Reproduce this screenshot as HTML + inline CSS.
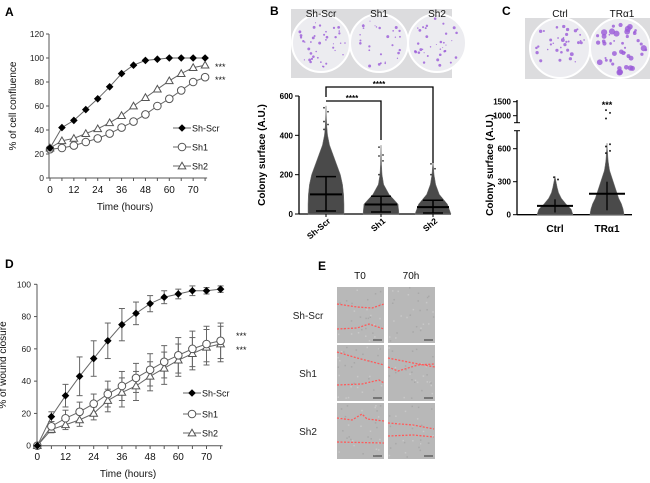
<!DOCTYPE html>
<html><head><meta charset="utf-8"><style>
html,body{margin:0;padding:0;background:#fff}
svg{display:block;font-family:"Liberation Sans",Arial,sans-serif}
</style></head><body>
<svg id="fig" width="650" height="483" viewBox="0 0 650 483" xmlns="http://www.w3.org/2000/svg">
<text x="5" y="16" font-size="12" font-weight="bold">A</text>
<text x="270" y="15" font-size="12" font-weight="bold">B</text>
<text x="502" y="15" font-size="12" font-weight="bold">C</text>
<text x="5" y="268" font-size="12" font-weight="bold">D</text>
<text x="318" y="270" font-size="12" font-weight="bold">E</text>
<g id="A"></g>
<g id="B"></g>
<g id="C"></g>
<g id="D"></g>
<g id="E"></g>
</svg>
<script>
// ---- Panel A data ----
const timeLabelsA = ["0","12","24","36","48","60","70"];
const scrA = [25,42,48,57,66,76,87,94,98,99,100,100,100,100];
const sh1A = [24,25,27,30,33,37,42,47,53,60,66,73,80,84];
const sh2A = [25,31,33,37,41,46,52,60,67,74,81,87,92,94];
const yTicksA = [0,20,40,60,80,100,120];
// ---- Panel D data ----
const timeLabelsD = ["0","12","24","36","48","60","70"];
const scrD = [0,18,31,43,54,65,75,82,88,92,94,96,96,97];
const scrDerr = [0,3,7,12,11,11,10,7,5,4,3,3,2,2];
const sh1D = [0,12,17,21,26,32,37,42,47,52,56,60,63,65];
const sh1Derr = [0,3,5,6,6,8,9,9,10,10,11,11,11,11];
const sh2D = [0,10,13,16,20,28,33,37,43,48,53,57,61,63];
const sh2Derr = [0,2,3,4,4,7,9,9,9,10,10,10,11,11];
const yTicksD = [0,20,40,60,80,100];
// ---- Panel B data ----
const groupsB = ["Sh-Scr","Sh1","Sh2"];
const meanB = [100,48,35];
const sdLowB = [15,10,5];
const sdHighB = [190,90,70];
const densityLevelsB = [0,50,100,150,200,250,300,350,400,450,500,550];
const densityB = [
 [100,100,98,92,80,60,40,20,9,4,2,0],
 [100,95,45,15,6,3,2,0,0,0,0,0],
 [100,80,35,15,6,2,0,0,0,0,0,0]];
const outliersB = [[540,520,470,455,430],[340,300,295,270,200],[255,230,200]];
const yTicksB = [0,200,400,600];
// ---- Panel C data ----
const groupsC = ["Ctrl","TRα1"];
const meanC = [80,190];
const sdLowC = [20,40];
const sdHighC = [140,300];
const densityLevelsC = [0,50,100,150,200,250,300,350,400,450,500,550,600,650];
const densityC = [
 [100,90,60,35,20,12,6,0,0,0,0,0,0,0],
 [95,90,80,65,55,45,35,25,15,10,6,4,2,0]];
const outliersC = [[340,320],[1200,1100,900,640,620,580,560]];
const yTicksClow = [0,300,600];
const yTicksChigh = [1000,1500];

const NS="http://www.w3.org/2000/svg";
function mk(parent,tag,attrs,text){const e=document.createElementNS(NS,tag);for(const k in attrs)e.setAttribute(k,attrs[k]);if(text!==undefined)e.textContent=text;parent.appendChild(e);return e;}

function marker(g,m,x,y,r){
 if(m==='diamond')return mk(g,'polygon',{points:`${x},${y-r} ${x+r},${y} ${x},${y+r} ${x-r},${y}`,fill:'#000'});
 if(m==='circle')return mk(g,'circle',{cx:x,cy:y,r:r,fill:'#fff',stroke:'#555','stroke-width':1});
 return mk(g,'polygon',{points:`${x},${y-r} ${x+r},${y+r*0.75} ${x-r},${y+r*0.75}`,fill:'#fff',stroke:'#555','stroke-width':1});
}

// ===== Panel A =====
(function(){
 const g=document.getElementById('A');
 const xA=i=>50+i*11.93, yA=v=>178-v*1.2;
 let e=mk(g,'line',{x1:49,y1:yA(120),x2:49,y2:178,stroke:'#555','stroke-width':1});
 
 
 e=mk(g,'line',{x1:49,y1:178,x2:xA(13)+2,y2:178,stroke:'#555','stroke-width':1});
 
 
 yTicksA.forEach(v=>{mk(g,'line',{x1:46,x2:49,y1:yA(v),y2:yA(v),stroke:'#555'});
  e=mk(g,'text',{x:44,y:yA(v)+3,'font-size':8.5,'text-anchor':'end',fill:'#222'},v);
  
  });
 for(let i=0;i<14;i++)mk(g,'line',{x1:xA(i),x2:xA(i),y1:178,y2:181,stroke:'#555'});
 timeLabelsA.forEach((t,k)=>{e=mk(g,'text',{x:xA(k*2),y:193,'font-size':10,'text-anchor':'middle',fill:'#111'},t);
  
  });
 e=mk(g,'text',{x:125,y:210,'font-size':10,'text-anchor':'middle',fill:'#111'},'Time (hours)');
 
 
 e=mk(g,'text',{x:0,y:0,'font-size':10,'text-anchor':'middle',fill:'#111',transform:'translate(16,106) rotate(-90)'},'% of cell confluence');
 
 
 const series=[[sh1A,'circle','a-series-sh1'],[sh2A,'tri','a-series-sh2'],[scrA,'diamond','a-series-sh-scr']];
 series.forEach(([d,m,n])=>{
  e=mk(g,'polyline',{points:d.map((v,i)=>xA(i)+','+yA(v)).join(' '),fill:'none',stroke:'#666','stroke-width':1});
  
  
  d.forEach((v,i)=>{e=marker(g,m,xA(i),yA(v),3.8);
   
   });
 });
 const leg=[['Sh-Scr','diamond',128],['Sh1','circle',147],['Sh2','tri',166]];
 leg.forEach(([t,m,y])=>{mk(g,'line',{x1:173,x2:191,y1:y,y2:y,stroke:'#666'});marker(g,m,182,y,3.8);
  e=mk(g,'text',{x:192,y:y+3.5,'font-size':9,fill:'#111'},t);
  
  });
 mk(g,'text',{x:215,y:70,'font-size':9,fill:'#111'},'***');
 mk(g,'text',{x:215,y:83,'font-size':9,fill:'#111'},'***');
})();

// ===== Panel D =====
(function(){
 const g=document.getElementById('D');
 const xD=i=>37.3+i*14.1, yD=v=>445.7-v*1.614;
 let e=mk(g,'line',{x1:37,y1:yD(100),x2:37,y2:445.7,stroke:'#555'});
 
 
 e=mk(g,'line',{x1:37,y1:445.7,x2:xD(13)+2,y2:445.7,stroke:'#555'});
 
 
 yTicksD.forEach(v=>{mk(g,'line',{x1:34,x2:37,y1:yD(v),y2:yD(v),stroke:'#555'});
  e=mk(g,'text',{x:31,y:yD(v)+3,'font-size':8.5,'text-anchor':'end',fill:'#222'},v);
  
  });
 for(let i=0;i<14;i++)mk(g,'line',{x1:xD(i),x2:xD(i),y1:445.7,y2:449,stroke:'#555'});
 timeLabelsD.forEach((t,k)=>{e=mk(g,'text',{x:xD(k*2),y:460,'font-size':10,'text-anchor':'middle',fill:'#111'},t);
  
  });
 e=mk(g,'text',{x:128,y:477,'font-size':10,'text-anchor':'middle',fill:'#111'},'Time (hours)');
 
 
 e=mk(g,'text',{x:0,y:0,'font-size':10,'text-anchor':'middle',fill:'#111',transform:'translate(6,365) rotate(-90)'},'% of wound closure');
 
 
 const series=[[sh2D,sh2Derr,'tri','d-series-sh2'],[sh1D,sh1Derr,'circle','d-series-sh1'],[scrD,scrDerr,'diamond','d-series-sh-scr']];
 series.forEach(([d,er,m,n])=>{
  d.forEach((v,i)=>{if(er[i]>0){const x=xD(i);
   mk(g,'line',{x1:x,x2:x,y1:yD(v-er[i]),y2:yD(v+er[i]),stroke:'#666'});
   mk(g,'line',{x1:x-3,x2:x+3,y1:yD(v-er[i]),y2:yD(v-er[i]),stroke:'#666'});
   mk(g,'line',{x1:x-3,x2:x+3,y1:yD(v+er[i]),y2:yD(v+er[i]),stroke:'#666'});}});
 });
 series.forEach(([d,er,m,n])=>{
  e=mk(g,'polyline',{points:d.map((v,i)=>xD(i)+','+yD(v)).join(' '),fill:'none',stroke:'#666'});
  
  
  d.forEach((v,i)=>{e=marker(g,m,xD(i),yD(v),3.8);
   
   });
 });
 const leg=[['Sh-Scr','diamond',393],['Sh1','circle',414],['Sh2','tri',433]];
 leg.forEach(([t,m,y])=>{mk(g,'line',{x1:183,x2:201,y1:y,y2:y,stroke:'#666'});marker(g,m,192,y,3.8);
  e=mk(g,'text',{x:202,y:y+3.5,'font-size':9,fill:'#111'},t);
  
  });
 mk(g,'text',{x:236,y:339,'font-size':9,fill:'#111'},'***');
 mk(g,'text',{x:236,y:353,'font-size':9,fill:'#111'},'***');
})();

// seeded texture generator (photo texture only)
let seed=7;function rnd(){seed=(seed*16807)%2147483647;return seed/2147483647;}
function plate(g,cx,cy,r,n,minr,maxr){
 mk(g,'circle',{cx,cy,r,fill:'#ececf0',stroke:'#fff','stroke-width':2});
 for(let k=0;k<n;k++){const a=rnd()*6.283,d=Math.sqrt(rnd())*(r-4);
  mk(g,'circle',{cx:cx+Math.cos(a)*d,cy:cy+Math.sin(a)*d,r:minr+rnd()*maxr,fill:'#9a5ad8','fill-opacity':0.8});}
}
function cloud(g,x,levels,dens,yf,halfw,name){
 let last=0;dens.forEach((d,j)=>{if(d>0)last=j;});
 const L=[],R=[];
 for(let j=0;j<=Math.min(last+1,dens.length-1);j++){const w=dens[j]/100*halfw;L.push((x-w)+','+yf(levels[j]));R.unshift((x+w)+','+yf(levels[j]));}
 const e=mk(g,'polygon',{points:L.concat(R).join(' '),fill:'#4a4a4a',stroke:'#777','stroke-width':0.5});
 
 
}

// ===== Panel B =====
(function(){
 const g=document.getElementById('B');
 let e=mk(g,'rect',{x:291,y:9,width:161,height:69,fill:'#dcdcde'});
 
 
 [321,379,437].forEach((cx,i)=>plate(g,cx,43,29,[40,28,35][i],0.5,1.0));
 groupsB.forEach((t,i)=>{e=mk(g,'text',{x:[321,379,437][i],y:17,'font-size':10,'text-anchor':'middle',fill:'#111'},t);
  
  });
 const yB=v=>214-v*118/600, xB=i=>[326,381,433][i];
 e=mk(g,'line',{x1:299,x2:299,y1:yB(600),y2:214,stroke:'#000','stroke-width':1.3});
 
 
 e=mk(g,'line',{x1:299,x2:451,y1:214,y2:214,stroke:'#000','stroke-width':1.3});
 
 
 yTicksB.forEach(v=>{mk(g,'line',{x1:295,x2:299,y1:yB(v),y2:yB(v),stroke:'#000'});
  e=mk(g,'text',{x:293,y:yB(v)+3,'font-size':8,'font-weight':'bold','text-anchor':'end'},v);
  
  });
 e=mk(g,'text',{x:0,y:0,'font-size':10,'font-weight':'bold','text-anchor':'middle',transform:'translate(265,155) rotate(-90)'},'Colony surface (A.U.)');
 
 
 groupsB.forEach((t,i)=>{
  const x=xB(i);
  cloud(g,x,densityLevelsB,densityB[i],yB,18,'b-scatter-'+t.toLowerCase());
  outliersB[i].forEach((v,k)=>{e=mk(g,'circle',{cx:x+(k%2?2:-2),cy:yB(v),r:0.9,fill:'#333'});
   
   });
  mk(g,'line',{x1:x,x2:x,y1:yB(sdLowB[i]),y2:yB(sdHighB[i]),stroke:'#000','stroke-width':1.5});
  mk(g,'line',{x1:x-10,x2:x+10,y1:yB(sdLowB[i]),y2:yB(sdLowB[i]),stroke:'#000','stroke-width':1.5});
  mk(g,'line',{x1:x-10,x2:x+10,y1:yB(sdHighB[i]),y2:yB(sdHighB[i]),stroke:'#000','stroke-width':1.5});
  e=mk(g,'line',{x1:x-16,x2:x+16,y1:yB(meanB[i]),y2:yB(meanB[i]),stroke:'#000','stroke-width':2});
  
  
  mk(g,'line',{x1:x,x2:x,y1:214,y2:217,stroke:'#000'});
  e=mk(g,'text',{x:0,y:0,'font-size':8.5,'font-weight':'bold','text-anchor':'end',transform:`translate(${x+5},${222}) rotate(-40)`},t);
  
  
 });
 e=mk(g,'polyline',{points:`326,97 326,87 433,87 433,163`,fill:'none',stroke:'#000','stroke-width':1.3});
 
 
 e=mk(g,'polyline',{points:`326,101 381,101 381,140`,fill:'none',stroke:'#000','stroke-width':1.3});
 
 
 mk(g,'text',{x:379,y:87,'font-size':8,'font-weight':'bold','text-anchor':'middle'},'****');
 mk(g,'text',{x:352,y:101,'font-size':8,'font-weight':'bold','text-anchor':'middle'},'****');
})();

// ===== Panel C =====
(function(){
 const g=document.getElementById('C');
 let e=mk(g,'rect',{x:525,y:18,width:125,height:61,fill:'#dcdcde'});
 
 
 plate(g,560,48,30,35,0.7,1.3);plate(g,620,48,30,45,0.8,2.6);
 groupsC.forEach((t,i)=>{e=mk(g,'text',{x:[560,622][i],y:17,'font-size':10,'text-anchor':'middle',fill:'#111'},t);
  
  });
 const yC=v=> v<=800 ? 214.7-v*33/300 : 115.7-(v-1000)*14/500;
 const xC=i=>[555,607][i];
 e=mk(g,'line',{x1:517,x2:517,y1:130.7,y2:214.7,stroke:'#000','stroke-width':1.3});
 
 
 e=mk(g,'line',{x1:517,x2:517,y1:100,y2:122.7,stroke:'#000','stroke-width':1.3});
 
 
 mk(g,'line',{x1:514,x2:520,y1:130.7,y2:130.7,stroke:'#000'});
 mk(g,'line',{x1:514,x2:520,y1:122.7,y2:122.7,stroke:'#000'});
 e=mk(g,'line',{x1:517,x2:632,y1:214.7,y2:214.7,stroke:'#000','stroke-width':1.3});
 
 
 yTicksClow.concat(yTicksChigh).forEach(v=>{mk(g,'line',{x1:513,x2:517,y1:yC(v),y2:yC(v),stroke:'#000'});
  e=mk(g,'text',{x:511,y:yC(v)+3,'font-size':8,'font-weight':'bold','text-anchor':'end'},v);
  
  });
 e=mk(g,'text',{x:0,y:0,'font-size':10,'font-weight':'bold','text-anchor':'middle',transform:'translate(493,165) rotate(-90)'},'Colony surface (A.U.)');
 
 
 groupsC.forEach((t,i)=>{
  const x=xC(i);
  cloud(g,x,densityLevelsC,densityC[i],yC,18,'c-scatter-'+(i?'tra1':'ctrl'));
  outliersC[i].forEach((v,k)=>{e=mk(g,'circle',{cx:x+(k%2?3:-1),cy:yC(v),r:1,fill:'#222'});
   
   });
  mk(g,'line',{x1:x,x2:x,y1:yC(sdLowC[i]),y2:yC(sdHighC[i]),stroke:'#000','stroke-width':1.3});
  e=mk(g,'line',{x1:x-18,x2:x+18,y1:yC(meanC[i]),y2:yC(meanC[i]),stroke:'#000','stroke-width':2});
  
  
  e=mk(g,'text',{x:x,y:232,'font-size':10,'font-weight':'bold','text-anchor':'middle'},t);
  
  
 });
 mk(g,'text',{x:607,y:108,'font-size':9,'font-weight':'bold','text-anchor':'middle'},'***');
})();

// ===== Panel E =====
(function(){
 const g=document.getElementById('E');
 let e;
 [['T0',360],['70h',411]].forEach(([t,x])=>{e=mk(g,'text',{x:x,y:279,'font-size':10,'text-anchor':'middle',fill:'#111'},t);
  
  });
 const rows=[['Sh-Scr',287],['Sh1',345],['Sh2',403]];
 const cols=[337,388];
 const lines=[
  [[[0,17],[20,20],[35,21],[47,17]],[[0,42],[20,41],[32,37],[47,42]]],
  [[],[]],
  [[[0,7],[20,13],[47,20]],[[0,40],[25,39],[42,35],[47,38]]],
  [[[0,13],[25,18],[47,22]],[[0,22],[10,26],[30,20],[46,19]]],
  [[[0,15],[15,17],[25,11],[30,16],[47,18]],[[0,39],[47,40]]],
  [[[0,20],[25,22],[46,26]],[[0,33],[25,32],[46,34]]]];
 rows.forEach(([t,y],ri)=>{
  e=mk(g,'text',{x:308,y:y+32,'font-size':10,'text-anchor':'middle',fill:'#222'},t);
  
  
  cols.forEach((x,ci)=>{
   e=mk(g,'rect',{x:x,y:y,width:47,height:56,fill:'#b8b8b8'});
   
   
   for(let k=0;k<30;k++)mk(g,'rect',{x:x+rnd()*45,y:y+rnd()*54,width:1.5,height:1.5,fill:rnd()>0.5?'#c8c8c8':'#a8a8a8'});
   lines[ri*2+ci].forEach(p=>{if(p.length)mk(g,'polyline',{points:p.map(q=>(x+q[0])+','+(y+q[1])).join(' '),fill:'none',stroke:'#ff5a5a','stroke-width':1.3,'stroke-dasharray':'2,1.5'});});
   mk(g,'line',{x1:x+36,x2:x+45,y1:y+53,y2:y+53,stroke:'#333','stroke-width':1});
  });
 });
})();
</script>
</body></html>
